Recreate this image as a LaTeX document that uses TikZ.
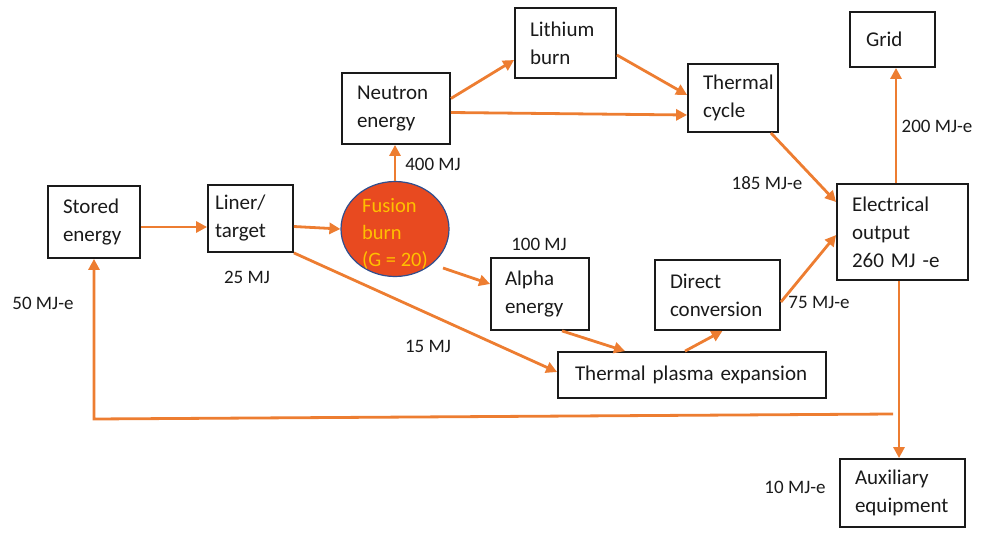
\documentclass[tikz,border=0pt]{standalone}
\usepackage{fontspec}
\setmainfont{Carlito}
\usetikzlibrary{shapes.geometric,arrows.meta,calc}
\definecolor{arrorange}{HTML}{ED7D31}
\definecolor{fusionred}{HTML}{E84A20}
\definecolor{fusionedge}{HTML}{2F4F8F}
\definecolor{fusiontxt}{HTML}{FFC000}
\definecolor{ink}{HTML}{1A1A1A}
\begin{document}
\begin{tikzpicture}[x=1pt,y=-1pt,
  box/.style={draw=ink, line width=1.8pt, align=left, text=ink,
    font=\fontsize{21}{28}\selectfont, inner ysep=0pt},
  arr/.style={draw=arrorange, line width=2.8pt, -{Triangle[length=11pt,width=11pt]}},
  lbl/.style={font=\fontsize{19}{23}\selectfont, text=ink, inner sep=0pt},
  fusiontext/.style={font=\fontsize{20.5}{27}\selectfont, text=fusiontxt, inner sep=0pt, align=left}]
\useasboundingbox (0,0) rectangle (981,532);

% boxes
\node[box, minimum width=92pt, minimum height=72pt, text width=62pt, inner xsep=15pt] (stored) at (94,222) {Stored\\energy};
\node[box, minimum width=85pt, minimum height=67pt, text width=71pt, inner xsep=7pt] (liner) at (250.5,218.5) {Liner/\\target};
\node[box, minimum width=108pt, minimum height=71pt, text width=78pt, inner xsep=15pt] (neutron) at (396,108.5) {Neutron\\energy};
\node[box, minimum width=101pt, minimum height=70pt, text width=71pt, inner xsep=15pt] (lithium) at (565.5,43) {Lithium\\burn};
\node[box, minimum width=90pt, minimum height=68pt, text width=60pt, inner xsep=15pt] (thermal) at (733,98) {Thermal\\cycle};
\node[box, minimum width=85pt, minimum height=55pt, text width=53pt, inner xsep=16pt] (grid) at (892.5,39.5) {Grid};
\node[box, minimum width=131pt, minimum height=96pt, text width=101pt, inner xsep=15pt] (elec) at (902.5,232) {Electrical\\output\\260 MJ -e};
\node[box, minimum width=98pt, minimum height=72pt, text width=70pt, inner xsep=14pt] (alpha) at (540,294) {Alpha\\energy};
\node[box, minimum width=125pt, minimum height=70pt, text width=95pt, inner xsep=15pt] (direct) at (717.5,295) {Direct\\conversion};
\node[box, minimum width=268pt, minimum height=46pt, text width=234pt, inner xsep=17pt] (tpe) at (692,375) {Thermal plasma expansion};
\node[box, minimum width=125pt, minimum height=68pt, text width=95pt, inner xsep=15pt] (aux) at (902.5,493) {Auxiliary\\equipment};

% fusion burn
\node[ellipse, draw=fusionedge, line width=1.2pt, fill=fusionred, minimum width=108pt, minimum height=95pt, inner sep=0pt] (fusion) at (395,229) {};
\node[fusiontext] (fusionlbl) at ([yshift=-5pt]fusion.center) {Fusion\\burn\\(G = 20)};

% connectors
\draw[arr] ([yshift=-5pt]stored.east) -- ([yshift=-5pt]stored.east -| liner.west);
\draw[arr] ([yshift=-8pt]liner.east) -- (fusion.west);
\draw[arr] (liner.south east) -- ([yshift=3pt]tpe.west);
\draw[arr] (fusion.north) -- (fusion.north |- neutron.south);
\draw[arr] ($(fusion.center)+(48,39)$) -- ([yshift=10pt]alpha.west);
\draw[arr] ([yshift=10pt]neutron.east) -- ([yshift=-17pt]lithium.west);
\draw[arr] ([yshift=-4pt]neutron.east) -- ([yshift=-17pt]thermal.west);
\draw[arr] ([yshift=-12pt]lithium.east) -- ([yshift=3pt]thermal.west);
\draw[arr] ([xshift=-8pt]thermal.south east) -- ([yshift=30pt]elec.west);
\draw[arr] ([yshift=-7pt]direct.east) -- ([yshift=-3pt]elec.west);
\draw[arr] ([xshift=22pt]alpha.south) -- ([xshift=-67pt]tpe.north);
\draw[arr] ([xshift=-7pt]tpe.north) -- ([xshift=5pt]direct.south);
\draw[arr] ([xshift=-6.5pt]elec.north) -- ([xshift=-6.5pt]elec.north |- grid.south);
\draw[arr] ([xshift=-3.5pt]elec.south) -- ([xshift=-3.5pt]elec.south |- aux.north);
\coordinate (fbR) at (893,414);
\coordinate (fbL) at (94,419);
\draw[arr] (fbR) -- (fbL) -- (stored.south);

% labels
\node[lbl] (l400) at (433,164) {400 MJ};
\node[lbl] (l185) at (767,183) {185 MJ-e};
\node[lbl] (l200) at (937,126) {200 MJ-e};
\node[lbl] (l100) at (539,244) {100 MJ};
\node[lbl] (l25) at (247,277) {25 MJ};
\node[lbl] (l50) at (43,303) {50 MJ-e};
\node[lbl] (l15) at (428,346) {15 MJ};
\node[lbl] (l75) at (819,302) {75 MJ-e};
\node[lbl] (l10) at (795,487) {10 MJ-e};
\end{tikzpicture}
\end{document}
